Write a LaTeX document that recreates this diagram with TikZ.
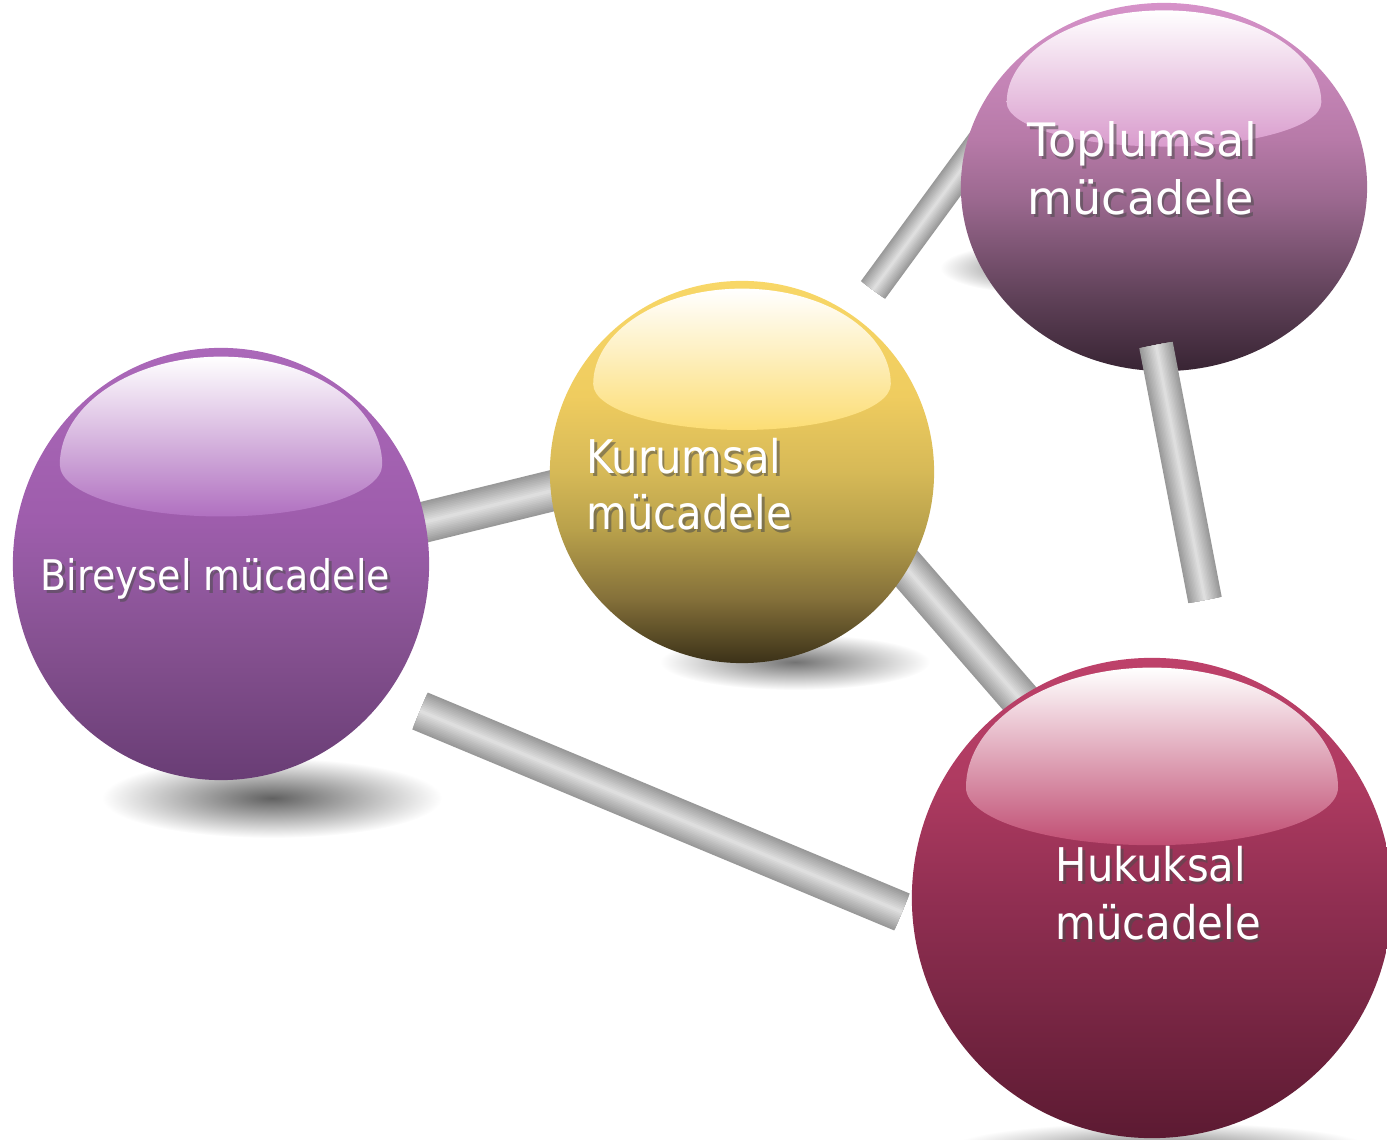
\documentclass[tikz,border=0pt]{standalone}
\usepackage{fontspec}
\newfontfamily\narrowfont{DejaVu Sans Condensed}
\newfontfamily\widefont{DejaVu Sans}
\usetikzlibrary{shapes.geometric}
\definecolor{birGloss}{HTML}{B070C0}
\definecolor{kurGloss}{HTML}{FCDD74}
\definecolor{topGloss}{HTML}{D99CCD}
\definecolor{hukGloss}{HTML}{C04D72}
\definecolor{birA}{HTML}{693D75}
\definecolor{birB}{HTML}{84508F}
\definecolor{birC}{HTML}{955AA3}
\definecolor{birD}{HTML}{9E5DAC}
\definecolor{birE}{HTML}{AB68B9}
\definecolor{kurA}{HTML}{3B3118}
\definecolor{kurB}{HTML}{85713A}
\definecolor{kurC}{HTML}{B9A14B}
\definecolor{kurD}{HTML}{D6B957}
\definecolor{kurE}{HTML}{EFCC5F}
\definecolor{kurF}{HTML}{F8D767}
\definecolor{topA}{HTML}{382433}
\definecolor{topB}{HTML}{5F4158}
\definecolor{topC}{HTML}{9C6990}
\definecolor{topD}{HTML}{B77AA8}
\definecolor{topE}{HTML}{D692C9}
\definecolor{hukA}{HTML}{5C1A32}
\definecolor{hukB}{HTML}{7B2745}
\definecolor{hukC}{HTML}{912F52}
\definecolor{hukD}{HTML}{AD3A60}
\definecolor{hukE}{HTML}{BE416A}
\pgfdeclareverticalshading{birShade}{100bp}{color(0bp)=(birA); color(25bp)=(birA);
  color(40bp)=(birB); color(50bp)=(birC); color(55bp)=(birD); color(75bp)=(birE); color(100bp)=(birE)}
\pgfdeclareverticalshading{kurShade}{100bp}{color(0bp)=(kurA); color(25bp)=(kurA);
  color(33.5bp)=(kurB); color(42.5bp)=(kurC); color(50bp)=(kurD); color(60bp)=(kurE);
  color(75bp)=(kurF); color(100bp)=(kurF)}
\pgfdeclareverticalshading{topShade}{100bp}{color(0bp)=(topA); color(25bp)=(topA);
  color(35bp)=(topB); color(48.5bp)=(topC); color(56.5bp)=(topD); color(75bp)=(topE); color(100bp)=(topE)}
\pgfdeclareverticalshading{hukShade}{100bp}{color(0bp)=(hukA); color(25bp)=(hukA);
  color(39.5bp)=(hukB); color(50bp)=(hukC); color(61.5bp)=(hukD); color(75bp)=(hukE); color(100bp)=(hukE)}
% grey rod between two coordinates, width in px
\newcommand\rod[3]{%
  \foreach \k in {0,...,11}{
    \pgfmathsetmacro\rodw{#3*0.2845*(1-\k/12)}
    \pgfmathsetmacro\rodc{40-27*\k/11}
    \draw[line width=\rodw pt,black!\rodc] (#1) -- (#2);
  }}
% glossy cap on a sphere: cx, cy, rx, ry, colour
\newcommand\gloss[5]{%
  \shade[top color=white,bottom color=#5]
    ({#1-0.775*#3},{#2-0.46*#4}) arc[start angle=180,end angle=360,x radius={0.775*#3},y radius={0.5*#4}]
    arc[start angle=0,end angle=180,x radius={0.775*#3},y radius={0.24*#4}] -- cycle;}
\begin{document}
\begin{tikzpicture}[x=0.01cm,y=-0.01cm,
  sphere/.style={ellipse,inner sep=0pt,draw=none},
  lbl/.style={inner sep=0pt,align=left,text=white},
  lblshadow/.style={inner sep=0pt,align=left,text=black!70,opacity=.55}]
\useasboundingbox (0,0) rectangle (1387,1140);

\shade[inner color=black!62,outer color=white] (272,798) ellipse [x radius=170,y radius=40];
\shade[inner color=black!55,outer color=white] (795,662) ellipse [x radius=135,y radius=28];
\shade[inner color=black!60,outer color=white] (1045,268) ellipse [x radius=105,y radius=26];
\shade[inner color=black!50,outer color=white] (1160,1148) ellipse [x radius=210,y radius=26];

\coordinate (bk1) at (380,533);
\coordinate (bk2) at (600,479);
\coordinate (bh1) at (420,711);
\coordinate (bh2) at (902,912);
\coordinate (kh1) at (860,515);
\coordinate (kh2) at (1060,745);
\coordinate (tk1) at (873,290);
\coordinate (tk2) at (991,129);
\coordinate (th1) at (1156,345);
\coordinate (th2) at (1205,600);
\rod{bk1}{bk2}{41}
\rod{bh1}{bh2}{40}
\rod{kh1}{kh2}{40}
\rod{tk1}{tk2}{30}

\node[sphere,minimum width=4.16cm,minimum height=4.32cm,shading=birShade] (bir) at (221,564) {};
\gloss{221}{564}{208}{216}{birGloss}
\node[sphere,minimum width=3.84cm,minimum height=3.82cm,shading=kurShade] (kur) at (742,472) {};
\gloss{742}{472}{192}{191}{kurGloss}
\node[sphere,minimum width=4.06cm,minimum height=3.68cm,shading=topShade] (toplum) at (1164,187) {};
\gloss{1164}{187}{203}{184}{topGloss}
\node[sphere,minimum width=4.8cm,minimum height=4.8cm,shading=hukShade] (huk) at (1152,898) {};
\gloss{1152}{898}{240}{240}{hukGloss}
\rod{th1}{th2}{34}

\node[lblshadow,font=\narrowfont\fontsize{12}{14}\selectfont,anchor=base west] (birS) at (42.5,593.5) {Bireysel mücadele};
\node[lbl,font=\narrowfont\fontsize{12}{14}\selectfont,anchor=base west] (birL) at (40,591) {Bireysel mücadele};
\node[lblshadow,font=\narrowfont\fontsize{13.2}{15.9}\selectfont,anchor=north west] (kurS) at (588.5,440.5) {Kurumsal\\mücadele};
\node[lbl,font=\narrowfont\fontsize{13.2}{15.9}\selectfont,anchor=north west] (kurL) at (586,438) {Kurumsal\\mücadele};
\node[lblshadow,font=\widefont\fontsize{13.1}{16.5}\selectfont,anchor=north west] (topS) at (1029.5,123.5) {Toplumsal\\mücadele};
\node[lbl,font=\widefont\fontsize{13.1}{16.5}\selectfont,anchor=north west] (topL) at (1027,121) {Toplumsal\\mücadele};
\node[lblshadow,font=\narrowfont\fontsize{13.2}{16.5}\selectfont,anchor=north west] (hukS) at (1057.5,848.5) {Hukuksal\\mücadele};
\node[lbl,font=\narrowfont\fontsize{13.2}{16.5}\selectfont,anchor=north west] (hukL) at (1055,846) {Hukuksal\\mücadele};
\end{tikzpicture}
\end{document}
